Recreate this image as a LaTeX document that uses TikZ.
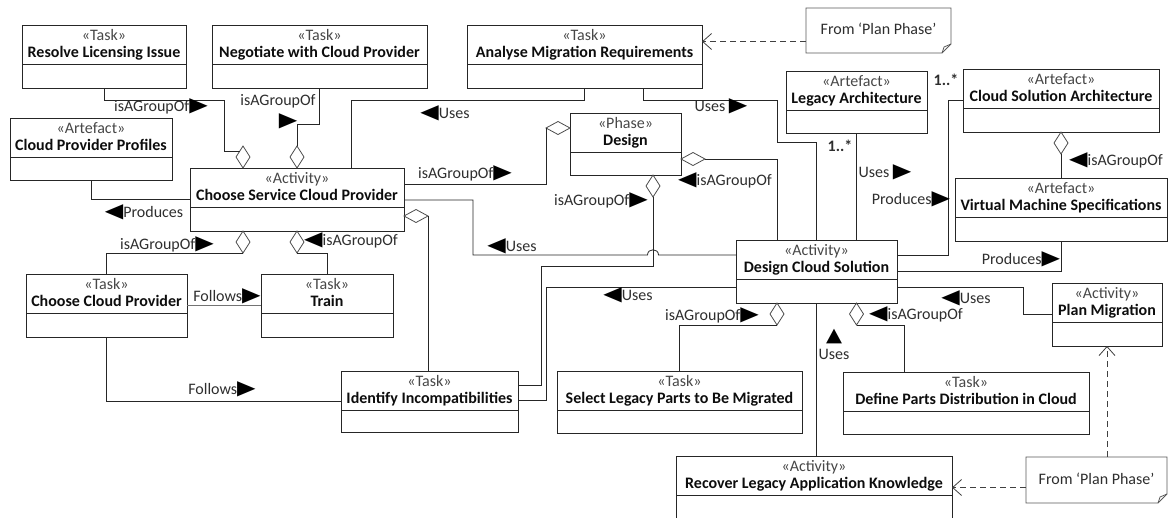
\documentclass[tikz,border=0pt]{standalone}
\usepackage{fontspec}
\setmainfont{Carlito}
\newfontfamily\symfont{DejaVu Sans}
\usetikzlibrary{shapes.geometric,arrows.meta,calc}
\newcommand\trR{{\color{black}\scalebox{1.5}[1.25]{\symfont\char"25B6}}}
\newcommand\trL{{\color{black}\scalebox{1.5}[1.25]{\symfont\char"25C0}}}
\newcommand\trU{{\color{black}\scalebox{1.3}[1.2]{\symfont\char"25B2}}}
\tikzset{
  box/.style={draw=black!85, line width=0.8pt, rectangle, inner sep=0pt, outer sep=0pt},
  boxline/.style={draw=black!85, line width=0.8pt},
  stereo/.style={text=black!72, font=\fontsize{16}{17}\selectfont, inner sep=0pt, text height=11pt, text depth=3pt},
  ttl/.style={text=black!95, font=\fontsize{16}{17}\selectfont\bfseries, inner sep=0pt, text height=11pt, text depth=3pt},
  lbl/.style={text=black!82, font=\fontsize{16}{17}\selectfont, inner sep=0pt, text height=11pt, text depth=3pt},
  conn/.style={draw=black!85, line width=0.8pt},
  greyconn/.style={draw=black!55, line width=1pt},
  vdia/.style={diamond, draw=black!70, line width=0.8pt, minimum width=14pt, minimum height=22pt, inner sep=0pt, outer sep=0pt},
  hdia/.style={diamond, draw=black!70, line width=0.8pt, minimum width=24pt, minimum height=13pt, inner sep=0pt, outer sep=0pt},
  dep/.style={draw=black!75, line width=0.8pt, dash pattern=on 6pt off 4pt, -{Straight Barb[length=9pt,width=16pt,line width=0.8pt]}},
  notebox/.style={draw=black!65, line width=0.8pt},
}
\newcommand\umlbox[7]{%
  \node[box, minimum width={#4-#2}, minimum height={#5-#3}] (#1) at ({(#2+#4)/2},{(#3+#5)/2}) {};
  \draw[boxline] (#2,#3+39.5) -- (#4,#3+39.5);
  \node[stereo] (#1s) at ({(#2+#4)/2},#3+11.5) {«#6»};
  \node[ttl] (#1t) at ({(#2+#4)/2},#3+28.5) {#7};
}
\newcommand\umlnote[6]{%
  \node[lbl, minimum width={#4-#2}, minimum height={#5-#3}] (#1) at ({(#2+#4)/2},{(#3+#5)/2}) {#6};
  \draw[notebox] (#2,#3) -- (#4,#3) -- (#4,#5-9) -- (#4-9,#5) -- (#2,#5) -- cycle;
  \draw[notebox] (#4-9,#5) -- (#4-7,#5-6) -- (#4,#5-9);
}
\begin{document}
\begin{tikzpicture}[x=1pt,y=-1pt]
\useasboundingbox (0,0) rectangle (1169,517);
% boxes
\umlbox{rli}{22}{25}{186}{88}{Task}{Resolve Licensing Issue}
\umlbox{neg}{212}{25}{427}{88}{Task}{Negotiate with Cloud Provider}
\umlbox{amr}{467}{25}{702}{88}{Task}{Analyse Migration Requirements}
\umlbox{leg}{786}{71}{927}{133}{Artefact}{Legacy Architecture}
\umlbox{csa}{963}{69}{1159}{132}{Artefact}{Cloud Solution Architecture}
\umlbox{cpp}{10}{118}{172}{180}{Artefact}{Cloud Provider Profiles}
\umlbox{csp}{190}{168}{404}{231}{Activity}{Choose Service Cloud Provider}
\umlbox{ccp}{26}{274}{187}{337}{Task}{Choose Cloud Provider}
\umlbox{trn}{261}{274}{393}{337}{Task}{Train}
\umlbox{des}{570}{113}{681}{175}{Phase}{Design}
\umlbox{dcs}{736}{240}{897}{303}{Activity}{Design Cloud Solution}
\umlbox{vms}{955}{178}{1167}{241}{Artefact}{Virtual Machine Specifications}
\umlbox{pm}{1052}{283}{1162}{346}{Activity}{Plan Migration}
\umlbox{iic}{341}{371}{518}{432}{Task}{Identify Incompatibilities}
\umlbox{slp}{557}{371}{802}{433}{Task}{Select Legacy Parts to Be Migrated}
\umlbox{dpd}{843}{372}{1089}{434}{Task}{Define Parts Distribution in Cloud}
\umlbox{rla}{676}{456}{952}{519}{Activity}{Recover Legacy Application Knowledge}
% notes
\umlnote{nA}{806}{8}{951}{53}{From ‘Plan Phase’}
\umlnote{nB}{1026}{457}{1167}{503}{From ‘Plan Phase’}
% diamonds
\node[vdia,anchor=south] (g1) at ($(csp.north)+(-54,0)$) {};
\node[vdia,anchor=south] (g2) at (csp.north) {};
\node[vdia,anchor=north] (g3) at ($(csp.south)+(-54,0)$) {};
\node[vdia,anchor=north] (g4) at (csp.south) {};
\node[hdia,anchor=west] (g5) at ($(csp.east)+(0,16.5)$) {};
\node[hdia,anchor=east] (g6) at ($(des.west)+(0,-16)$) {};
\node[hdia,anchor=west] (g7) at ($(des.east)+(0,15)$) {};
\node[vdia,anchor=north] (g8) at ($(des.south)+(27.5,0)$) {};
\node[vdia,anchor=north] (g9) at ($(dcs.south)+(-39.5,0)$) {};
\node[vdia,anchor=north] (g10) at ($(dcs.south)+(40,0)$) {};
\node[vdia,anchor=north] (g11) at (csa.south) {};
% connectors
\draw[conn] (rli.south) |- (224,100) |- (g1.north west);
\draw[conn] (neg.south) |- (297,124) -- (g2.north);
\draw[conn] ($(csp.north)+(54,0)$) |- (584.5,100) -- (amr.south);
\draw[conn] ($(amr.south)+(58.5,0)$) |- (777,100) |- (816.5,142) -- (dcs.north);
\draw[conn] (leg.south) -- ($(dcs.north)+(40,0)$);
\draw[conn] ($(dcs.east)+(0,-16.5)$) -| (948,100.5) -- (csa.west);
\draw[conn] (dcs.east) -| (vms.south);
\draw[conn] (g11.south) -- (g11.south |- vms.north);
\draw[conn] ($(dcs.east)+(0,15.5)$) -| (1023,314.5) -- (pm.west);
\draw[conn] (g10.south) -| ($(dpd.north)+(-62,0)$);
\draw[conn] (g9.south) -| (slp.north);
\draw[conn] (rla.north -| dcs.south) -- (dcs.south);
\draw[conn] ($(csp.east)+(0,-15.5)$) -| (g6.west);
\draw[conn] (g7.east) -| ($(dcs.north)+(-39.5,0)$);
\draw[conn] (g8.south) |- (541,266) |- ($(iic.east)+(0,-16.5)$);
\draw[conn] ($(csp.east)+(0,0.5)$) -| (473,255) -- (647.5,255) .. controls (647.5,248) and (658.5,248) .. (658.5,255) -- ($(dcs.west)+(0,-16.5)$);
\draw[conn] ($(dcs.west)+(0,15.5)$) -| ($(iic.east)+(28,-1.5)$) -- ($(iic.east)+(0,-1.5)$);
\draw[conn] (g5.east) -- (g5.east |- iic.north);
\draw[conn] (g3.south) -| (ccp.north);
\draw[conn] (g4.south) -| (trn.north);
\draw[greyconn] (ccp.east) -- (trn.west);
\draw[conn] (ccp.south) |- (iic.west);
\draw[conn] (cpp.south) |- (csp.west);
% dependencies
\draw[dep] ($(nA.west)+(0,11)$) -- ($(amr.east)+(0,-15)$);
\draw[dep] (nB.west |- rla.east) -- (rla.east);
\draw[dep] (nB.north -| pm.south) -- (pm.south);
% labels
\node[lbl] (l1) at (161,107) {isAGroupOf\trR};
\node[lbl] (l2a) at (278,101) {isAGroupOf};
\node[lbl] (l2b) at (288,122) {\trR};
\node[lbl] (l3) at (445,114) {\trL Uses};
\node[lbl] (l4) at (721,107) {Uses \trR};
\node[lbl,font=\fontsize{16}{17}\selectfont\bfseries] (l5a) at (840,147) {1..*};
\node[lbl] (l5b) at (885,173) {Uses \trR};
\node[lbl,font=\fontsize{16}{17}\selectfont\bfseries] (l6a) at (946,81) {1..*};
\node[lbl] (l6b) at (911,200) {Produces\trR};
\node[lbl] (l7) at (1021,260) {Produces\trR};
\node[lbl] (l8) at (1116,161) {\trL isAGroupOf};
\node[lbl] (l9) at (966,299.5) {\trL Uses};
\node[lbl] (l10) at (916,315) {\trL isAGroupOf};
\node[lbl] (l11) at (712,316) {isAGroupOf\trR};
\node[lbl,text height=,text depth=,anchor=south] (l12a) at (834,344.5) {\trU};
\node[lbl,text height=,text depth=,anchor=north] (l12b) at (834,349) {Uses};
\node[lbl] (l13a) at (465,174) {isAGroupOf\trR};
\node[lbl] (l13b) at (725,181) {\trL isAGroupOf};
\node[lbl] (l13c) at (601,201) {isAGroupOf\trR};
\node[lbl] (l14) at (512,247) {\trL Uses};
\node[lbl] (l15) at (628,296) {\trL Uses};
\node[lbl] (l17) at (167,245) {isAGroupOf\trR};
\node[lbl] (l18) at (351,241) {\trL isAGroupOf};
\node[lbl] (l19) at (227,297) {Follows\trR};
\node[lbl] (l20) at (222,390) {Follows\trR};
\node[lbl] (l21) at (144,213) {\trL Produces};
\end{tikzpicture}
\end{document}
